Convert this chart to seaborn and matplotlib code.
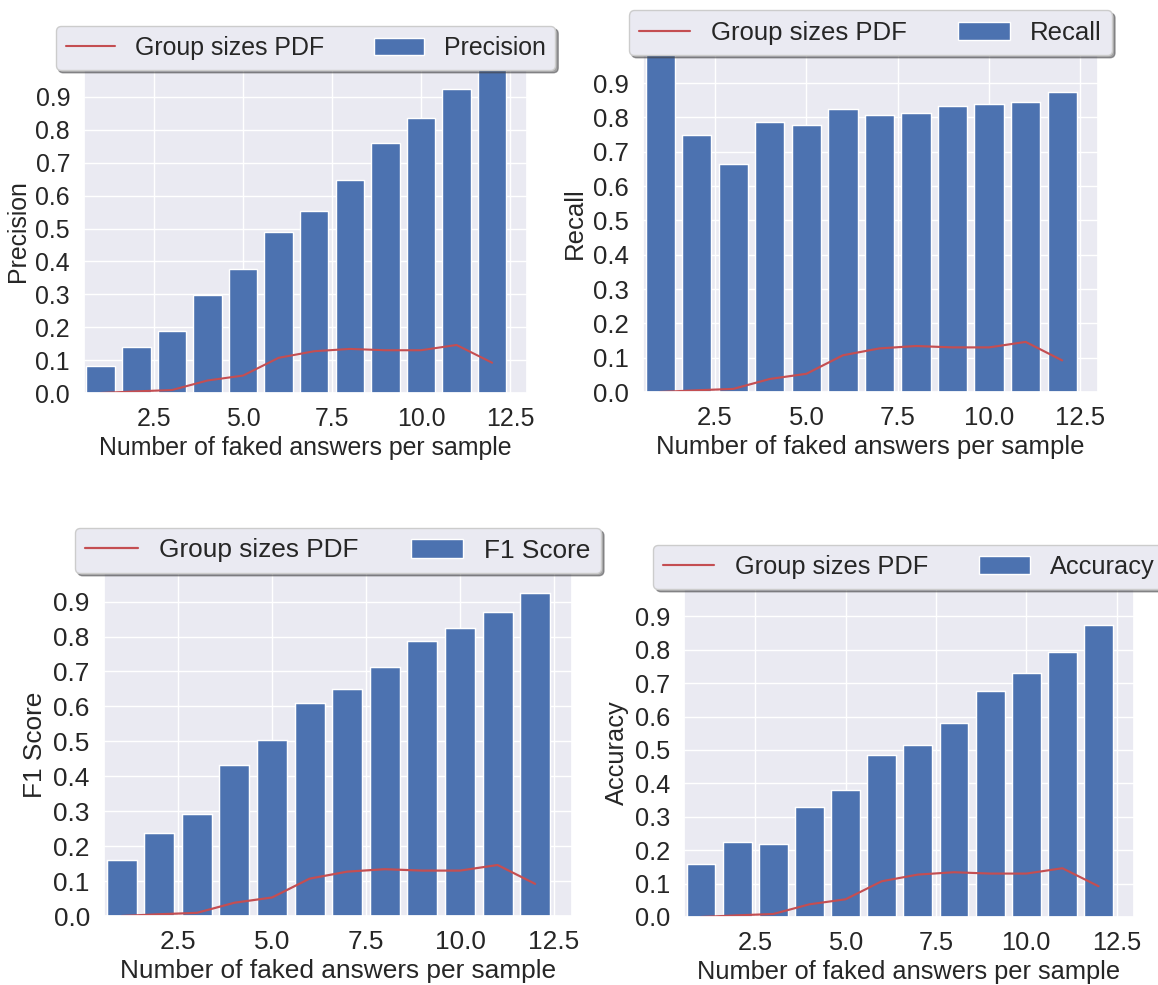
import numpy as np
import pandas as pd
import matplotlib
matplotlib.use("Agg")
import matplotlib.pyplot as plt
from matplotlib.patches import Patch
import seaborn as sns

# ---- data ----
faked_answers = [1, 2, 3, 4, 5, 6, 7, 8, 9, 10, 11, 12]
group_sizes_pdf = [0.0, 0.005, 0.009, 0.038, 0.053, 0.107, 0.127, 0.134, 0.130, 0.130, 0.146, 0.092]
precision = [0.083, 0.141, 0.187, 0.299, 0.376, 0.490, 0.553, 0.648, 0.759, 0.836, 0.923, 1.0]
recall = [1.0, 0.749, 0.665, 0.787, 0.777, 0.826, 0.807, 0.812, 0.834, 0.840, 0.846, 0.875]
f1_score = [0.160, 0.239, 0.293, 0.432, 0.503, 0.611, 0.651, 0.714, 0.787, 0.825, 0.871, 0.926]
accuracy = [0.159, 0.224, 0.218, 0.329, 0.381, 0.484, 0.514, 0.580, 0.678, 0.730, 0.794, 0.874]

metric_names = ["Precision", "Recall", "F1 Score", "Accuracy"]
metric_values = [precision, recall, f1_score, accuracy]
pdf_label = "Group sizes PDF"
x_label = "Number of faked answers per sample"
x_ticks = [2.5, 5.0, 7.5, 10.0, 12.5]
y_ticks = [0.0, 0.1, 0.2, 0.3, 0.4, 0.5, 0.6, 0.7, 0.8, 0.9]

# ---- style ----
sns.set_theme(style="darkgrid")
plt.rcParams["font.family"] = ["Liberation Sans", "DejaVu Sans"]

BAR_COLOR = "#4C72B0"
LINE_COLOR = "#C44E52"
W, H = 1158, 985

fig = plt.figure(figsize=(W / 100, H / 100), dpi=100)

# panel boxes in pixels: left, top, right, bottom  (each panel pasted at slightly different scale)
panel_px = [
    (84, 70, 527, 393),
    (643, 55, 1098, 392),
    (104, 573, 572, 916),
    (684, 589, 1134, 917),
]
font_sizes = [17.9, 18.5, 18.9, 18.3]

for (l, t, r, b), fs, name, vals in zip(panel_px, font_sizes, metric_names, metric_values):
    f = fs / 17.9
    ax = fig.add_axes([l / W, 1 - b / H, (r - l) / W, (b - t) / H])
    sns.barplot(x=faked_answers, y=vals, native_scale=True, color=BAR_COLOR,
                saturation=1, width=0.8, errorbar=None, ax=ax,
                edgecolor="white", linewidth=1.0 * f)
    sns.lineplot(x=faked_answers, y=group_sizes_pdf, color=LINE_COLOR,
                 linewidth=1.5 * f, ax=ax)
    ax.set_xlim(0.53, 12.98)
    ax.set_ylim(0, 0.982)
    ax.set_xticks(x_ticks)
    ax.set_yticks(y_ticks)
    ax.tick_params(axis="x", labelsize=fs, pad=4 * f)
    ax.tick_params(axis="y", labelsize=fs, pad=4 * f)
    ax.set_xlabel(x_label, fontsize=fs, labelpad=3.5 * f)
    ax.set_ylabel(name, fontsize=fs, labelpad=4 * f)

    line_handle = ax.lines[-1]
    bar_handle = Patch(facecolor=BAR_COLOR, edgecolor="white")
    leg = ax.legend(handles=[line_handle, bar_handle], labels=[pdf_label, name],
                    loc="lower center", bbox_to_anchor=(0.5, 1.0), ncol=2,
                    borderaxespad=0, fontsize=fs, frameon=True, shadow=True,
                    fancybox=True)
    leg.get_frame().set_facecolor("#EAEAF2")
    leg.get_frame().set_edgecolor("0.8")

fig.savefig("out.png", dpi=100)
